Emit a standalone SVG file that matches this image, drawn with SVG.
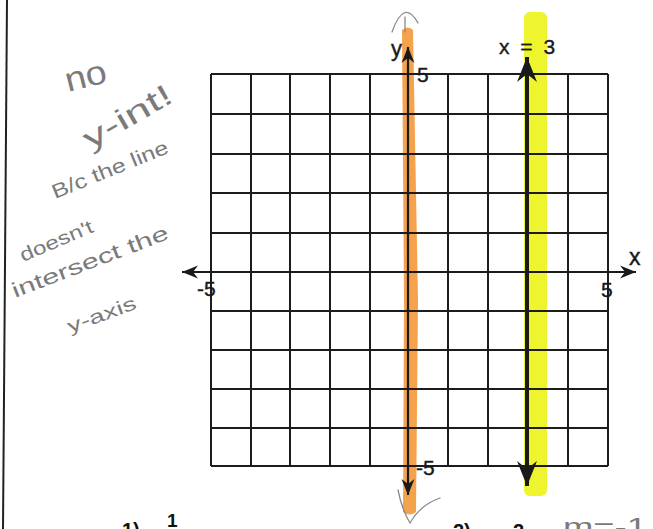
<svg xmlns="http://www.w3.org/2000/svg" width="653" height="529" viewBox="0 0 653 529">
<style>
.grid line{stroke:#1c1c1c;stroke-width:2}
.num{font-family:"Liberation Sans",Arial,sans-serif;font-size:21px;fill:#1a1a1a;stroke:#1a1a1a;stroke-width:0.4}
.hand{font-family:"Liberation Sans",Arial,sans-serif;fill:#7a7a7a;font-weight:normal}
.pencil{fill:none;stroke:#8a8a8a;stroke-width:1.3;stroke-linecap:round}
.bold{font-family:"Liberation Sans",Arial,sans-serif;font-weight:bold;font-size:20px;fill:#111}
</style>
<defs>
<marker id="ah" viewBox="-17 -8 18 16" refX="0" refY="0" markerWidth="18" markerHeight="16" markerUnits="userSpaceOnUse" orient="auto-start-reverse">
<path d="M0,0 L-16,-6.5 L-11,0 L-16,6.5 Z" fill="#1a1a1a"/>
</marker>
<marker id="big" viewBox="-26 -11 27 22" refX="0" refY="0" markerWidth="27" markerHeight="22" markerUnits="userSpaceOnUse" orient="auto-start-reverse">
<path d="M0,0 L-25,-10 L-17,0 L-25,10 Z" fill="#1a1a1a"/>
</marker>
</defs>
<rect width="653" height="529" fill="#fff"/>
<line x1="7" y1="0" x2="3" y2="529" stroke="#222" stroke-width="2"/>
<g id="highlights">
<path d="M402,30 Q408,25 413,30 L418,300 L416,512 Q409,517 403,512 L404,300 Z" fill="#f4a24c"/>
<rect x="524" y="12" width="23" height="484" rx="6" fill="#eef52e"/>
</g>
<g id="grid" class="grid">
<line x1="211" y1="74" x2="211" y2="466"/>
<line x1="251" y1="74" x2="251" y2="466"/>
<line x1="290" y1="74" x2="290" y2="466"/>
<line x1="330" y1="74" x2="330" y2="466"/>
<line x1="370" y1="74" x2="370" y2="466"/>
<line x1="448" y1="74" x2="448" y2="466"/>
<line x1="488" y1="74" x2="488" y2="466"/>
<line x1="568" y1="74" x2="568" y2="466"/>
<line x1="608" y1="74" x2="608" y2="466"/>
<line x1="211" y1="74" x2="608" y2="74"/>
<line x1="211" y1="114" x2="608" y2="114"/>
<line x1="211" y1="154" x2="608" y2="154"/>
<line x1="211" y1="193" x2="608" y2="193"/>
<line x1="211" y1="233" x2="608" y2="233"/>
<line x1="211" y1="311" x2="608" y2="311"/>
<line x1="211" y1="350" x2="608" y2="350"/>
<line x1="211" y1="389" x2="608" y2="389"/>
<line x1="211" y1="428" x2="608" y2="428"/>
<line x1="211" y1="466" x2="608" y2="466"/>
</g>
<g id="connectors">
<line id="x-axis" x1="182" y1="272" x2="636" y2="272" stroke="#1a1a1a" stroke-width="2.2" marker-start="url(#ah)" marker-end="url(#ah)"/>
<line id="y-axis" x1="408" y1="47" x2="408" y2="495" stroke="#1a1a1a" stroke-width="2.2" marker-start="url(#ah)" marker-end="url(#ah)"/>
<line id="line-x3" x1="527" y1="57" x2="527" y2="486" stroke="#1a1a1a" stroke-width="4" marker-start="url(#big)" marker-end="url(#big)"/>
</g>
<g id="labels">
<text class="num" x="391" y="56" style="font-size:22px">y</text>
<text class="num" x="417" y="82">5</text>
<text class="num" x="416" y="475">-5</text>
<text class="num" x="197" y="296">-5</text>
<text class="num" x="601" y="297">5</text>
<text class="num" x="629" y="265" style="font-size:23px">x</text>
<text class="num" x="499" y="54" word-spacing="5">x = 3</text>
</g>
<g id="pencil-marks">
<path class="pencil" d="M392,32 Q404,-2 418,23"/>
<path class="pencil" d="M405,17 L405,32"/>
<path class="pencil" d="M398,490 Q402,510 410,523 Q420,505 440,498"/>
</g>
<g id="handwriting">
<text class="hand" transform="translate(68,92) rotate(-14)" style="font-size:34px" textLength="42" lengthAdjust="spacingAndGlyphs">no</text>
<text class="hand" transform="translate(90,150) rotate(-30)" style="font-size:30px" textLength="98" lengthAdjust="spacingAndGlyphs">y-int!</text>
<text class="hand" transform="translate(55,199) rotate(-22)" style="font-size:20px" textLength="124" lengthAdjust="spacingAndGlyphs">B/c the line</text>
<text class="hand" transform="translate(23,262) rotate(-23)" style="font-size:19px" textLength="78" lengthAdjust="spacingAndGlyphs">doesn't</text>
<text class="hand" transform="translate(15,298) rotate(-21)" style="font-size:21px" textLength="166" lengthAdjust="spacingAndGlyphs">intersect the</text>
<text class="hand" transform="translate(70,333) rotate(-20)" style="font-size:19px" textLength="72" lengthAdjust="spacingAndGlyphs">y-axis</text>
<text class="hand" x="563" y="535" style="font-size:24px" textLength="84" lengthAdjust="spacingAndGlyphs">m=-1</text>
</g>
<g id="bottom-text">
<text class="bold" x="122" y="537">1)</text>
<text class="bold" x="167" y="527" style="font-size:19px">1</text>
<text class="bold" x="453" y="538">2)</text>
<text class="bold" x="513" y="538">2</text>
</g>
</svg>
